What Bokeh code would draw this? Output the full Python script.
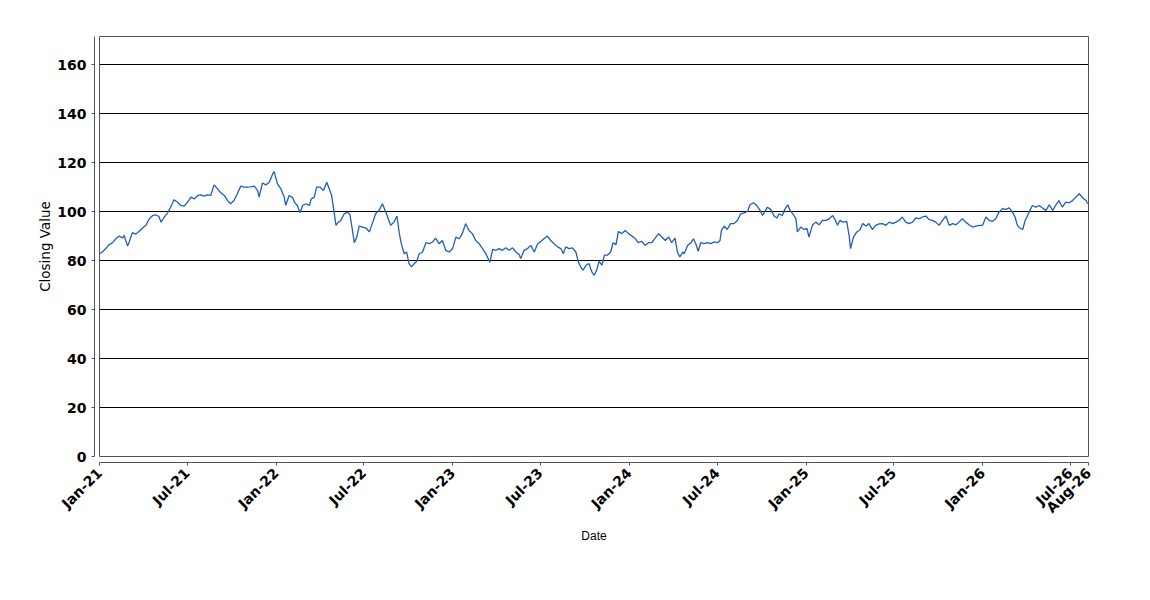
import math
import pandas as pd
from bokeh.plotting import figure
from bokeh.models import (Range1d, LinearAxis, DatetimeAxis, FixedTicker,
                          DatetimeTickFormatter, Grid, ColumnDataSource)
from bokeh.embed import file_html
from bokeh.resources import INLINE

# ---------------- data ----------------
START_DATE = "2021-01-01"
END_DATE = "2026-08-08"

day_offsets = [
    0, 6, 13, 20, 27, 34, 41, 48, 51, 58, 61, 68, 75, 82, 89, 96, 103, 110, 116, 123,
    127, 134, 141, 147, 154, 161, 168, 175, 182, 189, 196, 203, 209, 216, 223, 230, 237, 244, 251, 258,
    265, 271, 278, 285, 292, 299, 306, 313, 320, 327, 330, 337, 344, 351, 358, 361, 368, 375, 382, 385,
    392, 399, 403, 409, 415, 420, 427, 434, 438, 444, 449, 456, 463, 470, 475, 480, 484, 489, 494, 499,
    506, 513, 518, 522, 527, 532, 537, 544, 551, 558, 564, 571, 578, 585, 592, 597, 602, 609, 615, 620,
    624, 630, 635, 640, 645, 651, 656, 661, 668, 675, 682, 689, 695, 702, 709, 716, 723, 730, 737, 744,
    751, 757, 764, 771, 778, 785, 792, 799, 807, 813, 820, 826, 833, 840, 847, 854, 861, 868, 871, 878,
    885, 892, 899, 906, 913, 919, 926, 933, 940, 947, 954, 959, 964, 971, 978, 985, 990, 995, 1000, 1006,
    1012, 1018, 1023, 1028, 1033, 1039, 1044, 1050, 1057, 1062, 1068, 1073, 1080, 1087, 1094, 1101, 1108, 1114, 1121, 1128,
    1135, 1142, 1149, 1156, 1163, 1170, 1177, 1183, 1190, 1195, 1200, 1206, 1209, 1216, 1223, 1228, 1233, 1238, 1243, 1250,
    1257, 1264, 1271, 1278, 1283, 1286, 1292, 1298, 1305, 1312, 1319, 1326, 1333, 1340, 1345, 1352, 1359, 1366, 1371, 1376,
    1381, 1388, 1395, 1401, 1405, 1412, 1417, 1423, 1428, 1435, 1440, 1443, 1450, 1457, 1463, 1467, 1474, 1481, 1488, 1495,
    1502, 1509, 1516, 1520, 1526, 1531, 1538, 1545, 1550, 1553, 1559, 1566, 1573, 1578, 1585, 1591, 1598, 1605, 1612, 1619,
    1626, 1633, 1640, 1647, 1653, 1660, 1667, 1674, 1681, 1688, 1695, 1702, 1709, 1715, 1722, 1729, 1736, 1743, 1750, 1757,
    1764, 1771, 1777, 1784, 1791, 1798, 1805, 1812, 1819, 1826, 1833, 1840, 1846, 1853, 1860, 1867, 1874, 1881, 1888, 1893,
    1898, 1903, 1909, 1914, 1919, 1924, 1929, 1936, 1943, 1950, 1957, 1964, 1971, 1977, 1984, 1991, 1998, 2005, 2012, 2019,
    2026, 2033, 2040, 2043,
]

closing_values = [
    82.8, 83.5, 84.9, 86.5, 87.3, 89.0, 90.0, 89.2, 90.3, 86.0, 87.3, 91.4, 90.8, 92.0, 93.3, 94.4, 97.1, 98.4, 98.7, 98.0,
    95.7, 97.8, 99.5, 101.8, 104.8, 103.9, 102.5, 102.2, 103.9, 105.9, 105.2, 106.6, 106.8, 106.3, 106.8, 106.6, 110.9, 109.3, 107.7, 106.6,
    104.5, 103.2, 104.5, 107.3, 110.4, 110.0, 110.0, 110.1, 110.4, 108.6, 105.9, 111.7, 110.9, 112.0, 115.4, 116.3, 111.3, 109.3, 105.9, 102.5,
    106.6, 105.8, 103.9, 102.5, 99.5, 102.5, 103.2, 102.5, 105.2, 105.9, 110.0, 110.0, 108.6, 112.0, 109.3, 106.6, 101.2, 94.4, 95.7, 96.4,
    99.1, 99.8, 98.7, 93.7, 87.3, 89.6, 94.1, 93.7, 93.3, 91.7, 95.1, 99.1, 100.5, 103.2, 99.8, 97.1, 94.4, 95.7, 98.2, 91.0,
    86.9, 82.8, 83.5, 78.8, 77.4, 78.8, 79.7, 82.8, 83.5, 87.3, 86.9, 87.6, 89.2, 86.9, 88.2, 84.2, 83.5, 84.9, 89.6, 88.9,
    91.4, 95.1, 92.3, 91.0, 88.2, 86.9, 84.9, 82.8, 79.3, 84.6, 84.2, 84.9, 84.2, 85.2, 84.2, 85.2, 83.5, 82.4, 80.8, 84.2,
    84.9, 86.2, 83.5, 86.9, 87.9, 88.9, 90.0, 88.2, 86.9, 85.6, 84.9, 82.8, 85.6, 84.9, 85.2, 83.5, 79.5, 77.4, 76.1, 78.1,
    78.8, 75.4, 74.0, 76.1, 79.7, 78.1, 82.2, 82.2, 83.5, 87.3, 86.5, 91.9, 91.0, 92.3, 91.0, 90.0, 88.9, 87.3, 87.9, 86.2,
    87.3, 87.3, 89.2, 91.0, 89.6, 88.2, 89.6, 87.3, 89.2, 83.5, 81.5, 83.5, 82.8, 86.2, 87.3, 88.9, 86.9, 83.8, 87.3, 86.9,
    87.3, 86.9, 87.6, 87.3, 88.2, 92.3, 94.1, 92.7, 95.1, 95.1, 96.4, 99.1, 99.5, 100.1, 102.8, 103.6, 102.5, 100.5, 98.4, 100.1,
    101.8, 100.9, 98.2, 97.4, 99.1, 98.4, 100.9, 102.8, 100.5, 98.7, 97.1, 91.7, 93.7, 92.7, 93.0, 89.6, 94.4, 95.7, 94.6, 96.4,
    96.4, 97.1, 98.4, 97.1, 94.4, 96.4, 95.7, 96.0, 90.3, 84.9, 89.6, 91.7, 92.7, 95.1, 94.1, 95.1, 92.7, 94.4, 95.0, 95.1,
    94.4, 95.7, 95.1, 95.7, 96.4, 97.8, 95.7, 95.1, 95.7, 97.4, 97.1, 97.8, 98.2, 96.8, 96.4, 95.7, 94.4, 96.4, 98.2, 94.4,
    95.1, 94.6, 95.7, 97.1, 95.7, 94.6, 93.7, 94.1, 94.4, 94.4, 97.8, 96.4, 96.0, 97.1, 99.8, 101.2, 100.9, 101.5, 99.8, 97.8,
    94.4, 93.3, 92.7, 96.4, 98.4, 100.5, 102.5, 101.8, 102.5, 101.5, 100.5, 102.8, 100.5, 102.5, 104.5, 101.8, 103.9, 103.6, 104.5, 105.9,
    107.3, 105.6, 104.5, 103.2,
]

x_tick_dates = [
    "2021-01-01", "2021-07-01", "2022-01-01", "2022-07-01", "2023-01-01", "2023-07-01",
    "2024-01-01", "2024-07-01", "2025-01-01", "2025-07-01", "2026-01-01", "2026-07-01",
    END_DATE,
]
y_ticks = [0, 20, 40, 60, 80, 100, 120, 140, 160]
y_top = 171.5

# ---------------- figure ----------------
start = pd.Timestamp(START_DATE)
end = pd.Timestamp(END_DATE)
dates = start + pd.to_timedelta(day_offsets, unit="D")
src = ColumnDataSource(dict(date=dates, close=closing_values))

p = figure(width=1150, height=580, output_backend="svg", toolbar_location=None,
           x_axis_type=None, y_axis_type=None,
           x_range=Range1d(start, end), y_range=Range1d(0, y_top),
           min_border_left=99, min_border_right=62, min_border_top=36,
           min_border_bottom=124)
p.background_fill_color = "white"
p.border_fill_color = "white"
p.outline_line_color = "#555555"
p.outline_line_width = 1


def spacer(size, tick_at):
    # blank axis with one invisible tick: only pushes the real axis away from the frame
    return LinearAxis(ticker=FixedTicker(ticks=[tick_at]), axis_line_color=None,
                      major_tick_line_color="white", major_tick_line_alpha=0.01,
                      major_label_text_font_size="1px", major_label_text_alpha=0.01,
                      major_label_standoff=0,
                      major_tick_out=size, major_tick_in=0,
                      minor_tick_out=0, minor_tick_in=0)


AX_COL = "#555555"
TICK_FONT = "DejaVu Sans"

# y axis
p.add_layout(spacer(0, y_ticks[-1]), "left")
yax = LinearAxis(ticker=FixedTicker(ticks=y_ticks), axis_label="Closing Value")
yax.axis_line_color = AX_COL
yax.major_tick_line_color = AX_COL
yax.major_tick_out = 3
yax.major_tick_in = 0
yax.minor_tick_line_color = None
yax.major_label_text_font = TICK_FONT
yax.major_label_text_font_style = "bold"
yax.major_label_text_font_size = "14px"
yax.major_label_text_color = "black"
yax.major_label_standoff = 5
yax.axis_label_text_font = TICK_FONT
yax.axis_label_text_font_style = "normal"
yax.axis_label_text_font_size = "13.5px"
yax.axis_label_text_color = "black"
yax.axis_label_standoff = 1
p.add_layout(yax, "left")

# x axis
x_tick_ms = [pd.Timestamp(d).value / 1e6 for d in x_tick_dates]
p.add_layout(spacer(2, x_tick_ms[1]), "below")
fmt = "%b-%y"
xax = DatetimeAxis(
    ticker=FixedTicker(ticks=x_tick_ms),
    formatter=DatetimeTickFormatter(microseconds=fmt, milliseconds=fmt, seconds=fmt,
                                    minsec=fmt, minutes=fmt, hourmin=fmt, hours=fmt,
                                    days=fmt, months=fmt, years=fmt),
    axis_label="Date")
xax.axis_line_color = AX_COL
xax.major_tick_line_color = AX_COL
xax.major_tick_out = 3
xax.major_tick_in = 0
xax.minor_tick_line_color = None
xax.major_label_orientation = math.pi / 4
xax.major_label_text_font = TICK_FONT
xax.major_label_text_font_style = "bold"
xax.major_label_text_font_size = "14px"
xax.major_label_text_color = "black"
xax.major_label_standoff = 5
xax.axis_label_text_font = "Liberation Sans"
xax.axis_label_text_font_style = "normal"
xax.axis_label_text_font_size = "12px"
xax.axis_label_text_color = "black"
xax.axis_label_standoff = 5
p.add_layout(xax, "below")

p.add_layout(Grid(dimension=1, ticker=yax.ticker, grid_line_color="black",
                  grid_line_width=1))

p.line("date", "close", source=src, line_color="#1f5fb8", line_width=1.3)

open("out.html", "w").write(file_html(p, INLINE))
